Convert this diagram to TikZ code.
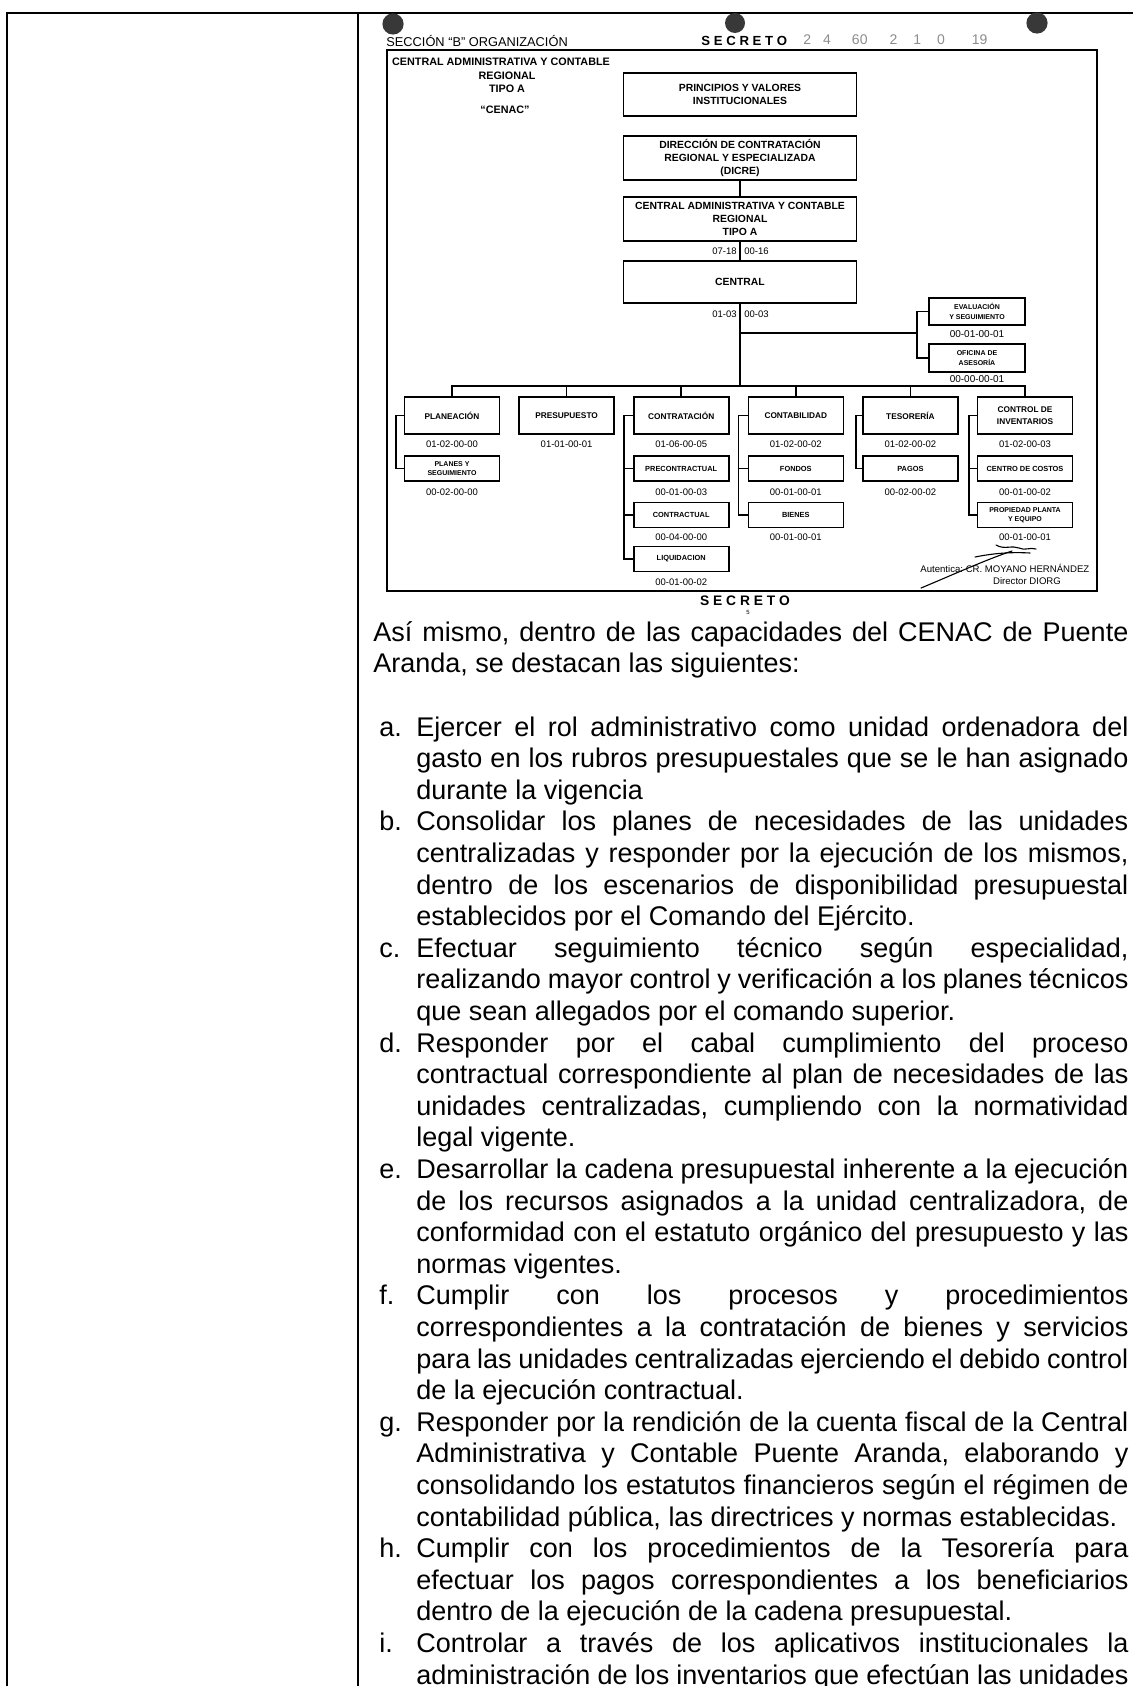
\documentclass[tikz,border=0pt]{standalone}
\usepackage{fontspec}
\setmainfont{Liberation Sans}
\frenchspacing
\begin{document}
\begin{tikzpicture}[x=0.5pt,y=-0.5pt,
  tbl/.style={line width=1.4pt},
  frm/.style={line width=1pt},
  ln/.style={line width=0.8pt},
  topbox/.style={draw, ln, inner sep=0pt, minimum width=116.5pt, align=center, font=\bfseries\fontsize{5.2}{6.5}\selectfont},
  sidebox/.style={draw, ln, inner sep=0pt, minimum width=48pt, align=center, font=\bfseries\fontsize{3.5}{5}\selectfont},
  mainbox/.style={draw, ln, inner sep=0pt, minimum width=47.5pt, minimum height=18.5pt, align=center, font=\bfseries\fontsize{4.15}{6}\selectfont},
  subbox/.style={draw, ln, inner sep=0pt, minimum width=47.5pt, minimum height=12.5pt, align=center, font=\bfseries\fontsize{3.7}{4.6}\selectfont},
  codetxt/.style={inner sep=0pt, anchor=base, font=\fontsize{4.75}{5}\selectfont},
  hdr/.style={inner sep=0pt, anchor=base, font=\bfseries\fontsize{5.4}{6}\selectfont},
  bodytxt/.style={inner sep=0pt, anchor=base west, font=\fontsize{13.5}{15.8}\selectfont},
  itemtxt/.style={bodytxt, text width=356pt, align=justify},
  holec/.style={fill=black!78},
  sig/.style={line width=0.55pt, line cap=round}
]
\useasboundingbox (0,0) rectangle (1133,1686);

% outer table
\draw[tbl] (7,1686) -- (7,13) -- (1133,13);
\draw[tbl] (358,13) -- (358,1686);

% punch holes
\fill[holec] (393,24) circle[radius=5.3pt];
\fill[holec] (735,23) circle[radius=5pt];
\fill[holec] (1037,23) circle[radius=5.3pt];

% header
\node[inner sep=0pt, anchor=base west, font=\fontsize{6.4}{7}\selectfont] (secc) at (386,47) {SECCIÓN “B” ORGANIZACIÓN};
\node[inner sep=0pt, anchor=base west, font=\bfseries\fontsize{6.6}{7}\selectfont] (secA) at (701,46) {S E C R E T O};
\node[inner sep=0pt, anchor=base west, text=black!45, font=\fontsize{7}{8}\selectfont] (num) at (803,45)
  {2\hspace{6pt}4\hspace{10.5pt}60\hspace{11pt}2\hspace{8pt}1\hspace{8pt}0\hspace{13.5pt}19};

% inner frame
\draw[frm] (387,50) rectangle (1097,591);

% top-left title
\node[hdr] (tl1) at (501,66) {CENTRAL ADMINISTRATIVA Y CONTABLE};
\node[hdr] (tl2) at (507,80) {REGIONAL};
\node[hdr] (tl3) at (507,93) {TIPO A};
\node[hdr] (tl4) at (505,113) {“CENAC”};

% spine boxes
\node[topbox, minimum height=21.5pt] (P) at (740,94.5) {PRINCIPIOS Y VALORES\\INSTITUCIONALES};
\node[topbox, minimum height=22pt] (D) at (740,158) {DIRECCIÓN DE CONTRATACIÓN\\REGIONAL Y ESPECIALIZADA\\(DICRE)};
\node[topbox, minimum height=22pt] (A) at (740,219) {CENTRAL ADMINISTRATIVA Y CONTABLE\\REGIONAL\\TIPO A};
\node[topbox, minimum height=21pt] (C) at (740,282) {CENTRAL};

\node[codetxt, anchor=base east] (kA1) at (737,254) {07-18};
\node[codetxt, anchor=base west] (kA2) at (744,254) {00-16};
\node[codetxt, anchor=base east] (kC1) at (737,317) {01-03};
\node[codetxt, anchor=base west] (kC2) at (744,317) {00-03};

% side boxes
\node[sidebox, minimum height=13.5pt] (E) at (977,311.5) {EVALUACIÓN\\Y SEGUIMIENTO};
\node[sidebox, minimum height=14pt] (O) at (977,358) {OFICINA DE\\ASESORÍA};
\node[codetxt, font=\fontsize{5}{5}\selectfont] (kE) at (977,337) {00-01-00-01};
\node[codetxt, font=\fontsize{5}{5}\selectfont] (kO) at (977,382) {00-00-00-01};

% bottom row main boxes
\node[mainbox] (B1) at (452,415.5) {PLANEACIÓN};
\node[mainbox] (B2) at (566.6,415.5) {PRESUPUESTO};
\node[mainbox] (B3) at (681.2,415.5) {CONTRATACIÓN};
\node[mainbox] (B4) at (795.8,415.5) {CONTABILIDAD};
\node[mainbox] (B5) at (910.4,415.5) {TESORERÍA};
\node[mainbox] (B6) at (1025,415.5) {CONTROL DE\\INVENTARIOS};

% sub boxes
\node[subbox, font=\bfseries\fontsize{3.5}{4.3}\selectfont] (S11) at (452,468.5) {PLANES Y\\SEGUIMIENTO};
\node[subbox] (S31) at (681.2,468.5) {PRECONTRACTUAL};
\node[subbox] (S32) at (681.2,515) {CONTRACTUAL};
\node[subbox] (S33) at (681.2,559) {LIQUIDACION};
\node[subbox] (S41) at (795.8,468.5) {FONDOS};
\node[subbox] (S42) at (795.8,515) {BIENES};
\node[subbox] (S51) at (910.4,468.5) {PAGOS};
\node[subbox] (S61) at (1025,468.5) {CENTRO DE COSTOS};
\node[subbox, font=\bfseries\fontsize{3.5}{4.3}\selectfont] (S62) at (1025,515) {PROPIEDAD PLANTA\\Y EQUIPO};

% codes
\node[codetxt] (kB1) at (452,447) {01-02-00-00};
\node[codetxt] (kS11) at (452,495) {00-02-00-00};
\node[codetxt] (kB2) at (566.6,447) {01-01-00-01};
\node[codetxt] (kB3) at (681.2,447) {01-06-00-05};
\node[codetxt] (kS31) at (681.2,495) {00-01-00-03};
\node[codetxt] (kS32) at (681.2,540) {00-04-00-00};
\node[codetxt] (kS33) at (681.2,585) {00-01-00-02};
\node[codetxt] (kB4) at (795.8,447) {01-02-00-02};
\node[codetxt] (kS41) at (795.8,495) {00-01-00-01};
\node[codetxt] (kS42) at (795.8,540) {00-01-00-01};
\node[codetxt] (kB5) at (910.4,447) {01-02-00-02};
\node[codetxt] (kS51) at (910.4,495) {00-02-00-02};
\node[codetxt] (kB6) at (1025,447) {01-02-00-03};
\node[codetxt] (kS61) at (1025,495) {00-01-00-02};
\node[codetxt] (kS62) at (1025,540) {00-01-00-01};

% connectors
\coordinate (busy) at (0,386);
\coordinate (rb) at (917,333);
\draw[ln] (D.south) -- (A.north);
\draw[ln] (A.south) -- (C.north);
\draw[ln] (C.south) -- (C.south |- busy);
\draw[ln] (C.south |- rb) -- (rb);
\draw[ln] (E.west) -- (E.west -| rb) -- (O.west -| rb) -- (O.west);
\draw[ln] (B1.north) -- (B1.north |- busy) -- (B6.north |- busy) -- (B6.north);
\foreach \k in {2,3,4,5} \draw[ln] (B\k.north) -- (B\k.north |- busy);
\draw[ln] (B1.west) -- ++(-8,0) |- (S11.west);
\draw[ln] (B3.west) -- ++(-9,0) |- (S33.west);
\draw[ln] (S31.west) -- ++(-9,0);
\draw[ln] (S32.west) -- ++(-9,0);
\draw[ln] (B4.west) -- ++(-9,0) |- (S42.west);
\draw[ln] (S41.west) -- ++(-9,0);
\draw[ln] (B5.west) -- ++(-6,0) |- (S51.west);
\draw[ln] (B6.west) -- ++(-8,0) |- (S62.west);
\draw[ln] (S61.west) -- ++(-8,0);

% signature
\draw[sig] (921,588) .. controls (950,576) and (985,560) .. (1012,551);
\draw[sig] (996,545) .. controls (1004,550) and (1012,545) .. (1019,548) .. controls (1025,551) and (1030,547) .. (1036,549);
\draw[sig] (975,557) .. controls (995,553) and (1012,552) .. (1030,553);
\node[inner sep=0pt, anchor=base west, font=\fontsize{4.8}{5}\selectfont] (aut) at (920,572) {Autentica: CR. MOYANO HERNÁNDEZ};
\node[inner sep=0pt, anchor=base, font=\fontsize{4.8}{5}\selectfont] (dir) at (1027,584) {Director DIORG};

% bottom SECRETO
\node[inner sep=0pt, anchor=base, font=\bfseries\fontsize{6.9}{7}\selectfont] (secB) at (745,605) {S E C R E T O};
\node[inner sep=0pt, anchor=base, font=\fontsize{3}{3}\selectfont] (pg) at (748,614) {5};

% body text
\node[bodytxt, text width=377.5pt, align=justify] (intro) at (373,641.2)
  {Así mismo, dentro de las capacidades del CENAC de Puente\linebreak Aranda, se destacan las siguientes:};

\node[bodytxt] (la) at (379,736) {a.};
\node[itemtxt] (ta) at (416,736) {Ejercer el rol administrativo como unidad ordenadora del\linebreak gasto en los rubros presupuestales que se le han asignado\linebreak durante la vigencia};

\node[bodytxt] (lb) at (379,830.8) {b.};
\node[itemtxt] (tb) at (416,830.8) {Consolidar los planes de necesidades de las unidades\linebreak centralizadas y responder por la ejecución de los mismos,\linebreak dentro de los escenarios de disponibilidad presupuestal\linebreak establecidos por el Comando del Ejército.};

\node[bodytxt] (lc) at (379,957.2) {c.};
\node[itemtxt] (tc) at (416,957.2) {Efectuar seguimiento técnico según especialidad,\linebreak realizando mayor control y verificación a los planes técnicos\linebreak que sean allegados por el comando superior.};

\node[bodytxt] (ld) at (379,1052) {d.};
\node[itemtxt] (td) at (416,1052) {Responder por el cabal cumplimiento del proceso\linebreak contractual correspondiente al plan de necesidades de las\linebreak unidades centralizadas, cumpliendo con la normatividad\linebreak legal vigente.};

\node[bodytxt] (le) at (379,1178.4) {e.};
\node[itemtxt] (te) at (416,1178.4) {Desarrollar la cadena presupuestal inherente a la ejecución\linebreak de los recursos asignados a la unidad centralizadora, de\linebreak conformidad con el estatuto orgánico del presupuesto y las\linebreak normas vigentes.};

\node[bodytxt] (lf) at (379,1304.8) {f.};
\node[itemtxt] (tf) at (416,1304.8) {Cumplir con los procesos y procedimientos\linebreak correspondientes a la contratación de bienes y servicios\linebreak para las unidades centralizadas ejerciendo el debido control\linebreak de la ejecución contractual.};

\node[bodytxt] (lg) at (379,1431.2) {g.};
\node[itemtxt] (tg) at (416,1431.2) {Responder por la rendición de la cuenta fiscal de la Central\linebreak Administrativa y Contable Puente Aranda, elaborando y\linebreak consolidando los estatutos financieros según el régimen de\linebreak contabilidad pública, las directrices y normas establecidas.};

\node[bodytxt] (lh) at (379,1557.6) {h.};
\node[itemtxt] (th) at (416,1557.6) {Cumplir con los procedimientos de la Tesorería para\linebreak efectuar los pagos correspondientes a los beneficiarios\linebreak dentro de la ejecución de la cadena presupuestal.};

\node[bodytxt] (li) at (379,1652.4) {i.};
\node[itemtxt] (ti) at (416,1652.4) {\parfillskip=0pt Controlar a través de los aplicativos institucionales la\linebreak administración de los inventarios que efectúan las unidades};

\end{tikzpicture}
\end{document}
